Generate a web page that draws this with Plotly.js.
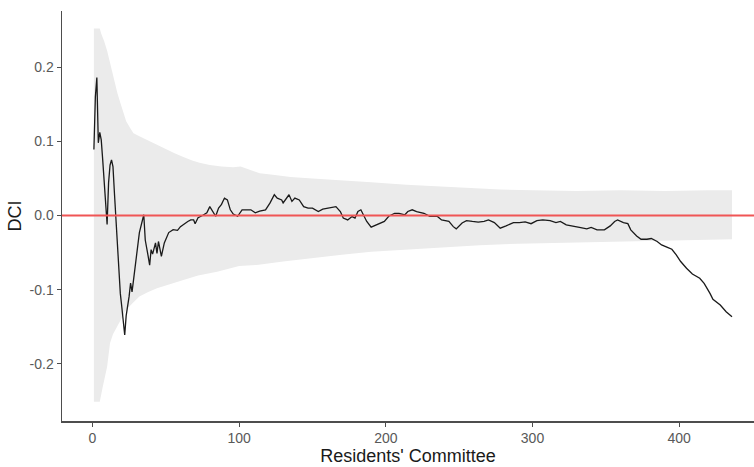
<!DOCTYPE html>
<html>
<head>
<meta charset="utf-8">
<script src="https://cdn.plot.ly/plotly-3.0.1.min.js"></script>
<style>html,body{margin:0;padding:0;background:#fff;}#chart{width:754px;height:467px;}</style>
</head>
<body>
<div id="chart"></div>
<script>
// DCI line (Residents' Committee index, DCI value)
const lineX = [1,2,3,4,5,6,7,8,9,10,11,12,13,14,15,16,17,18,19,20,21,22,23,24,25,26,27,28,30,32,35,36,38,39,40,41,43,44,45,47,49,52,55,58,60,62,65,67,69,70,72,75,78,80,82,84,86,88,90,92,94,96,99,102,105,108,111,114,118,121,124,126,129,130,134,136,138,141,144,147,150,154,157,162,166,169,171,174,177,179,181,183,185,187,190,194,199,202,206,209,213,215,218,221,226,230,235,238,243,246,248,252,255,259,263,267,270,274,278,282,287,291,295,299,303,307,312,316,319,323,328,332,337,340,344,349,353,356,358,362,365,367,371,374,378,381,385,388,392,395,398,401,405,409,414,417,421,423,428,432,436];
const lineY = [0.089,0.160,0.186,0.098,0.112,0.102,0.075,0.048,0.008,-0.012,0.044,0.068,0.075,0.066,0.030,-0.006,-0.030,-0.069,-0.105,-0.123,-0.140,-0.161,-0.135,-0.123,-0.109,-0.091,-0.103,-0.087,-0.055,-0.023,0.001,-0.033,-0.055,-0.067,-0.046,-0.052,-0.037,-0.051,-0.035,-0.055,-0.037,-0.023,-0.019,-0.020,-0.015,-0.012,-0.008,-0.006,-0.006,-0.011,-0.003,0.000,0.0036,0.012,0.005,-0.001,0.010,0.015,0.0235,0.021,0.0077,0.002,-0.001,0.0077,0.0075,0.0077,0.0036,0.006,0.0077,0.0167,0.028,0.0235,0.021,0.017,0.028,0.019,0.0235,0.021,0.012,0.010,0.010,0.0054,0.0086,0.010,0.012,0.0054,-0.0035,-0.006,-0.0014,-0.0035,0.0054,0.0077,-0.001,-0.008,-0.0157,-0.0126,-0.008,-0.001,0.003,0.003,0.001,0.0054,0.0077,0.0054,0.003,-0.001,-0.001,-0.006,-0.008,-0.015,-0.018,-0.010,-0.0068,-0.008,-0.009,-0.008,-0.006,-0.0095,-0.017,-0.014,-0.0095,-0.0095,-0.0085,-0.011,-0.0068,-0.006,-0.0068,-0.0095,-0.008,-0.0126,-0.015,-0.016,-0.018,-0.016,-0.0193,-0.0193,-0.014,-0.008,-0.006,-0.0095,-0.011,-0.0193,-0.0275,-0.032,-0.032,-0.031,-0.035,-0.0396,-0.043,-0.0455,-0.053,-0.062,-0.071,-0.0788,-0.0846,-0.0914,-0.105,-0.113,-0.1207,-0.1297,-0.1365];

// Ribbon bounds
const upperX = [1,5,6,8,10,12,14,17,19,21,23,26,28,32,37,42,47,51,56,62,68,73,80,88,96,101,108,114,123,135,150,169,190,214,240,260,278,300,330,360,390,420,436];
const upperY = [0.252,0.252,0.245,0.235,0.222,0.205,0.188,0.165,0.152,0.138,0.127,0.117,0.111,0.107,0.102,0.097,0.092,0.088,0.084,0.079,0.074,0.071,0.068,0.066,0.065,0.066,0.061,0.057,0.055,0.052,0.050,0.048,0.045,0.0415,0.039,0.037,0.035,0.034,0.033,0.034,0.033,0.034,0.034];
const lowerX = [1,5,7,10,12,14,17,20,23,28,32,38,44,52,62,72,85,100,112,130,150,170,190,214,240,264,290,320,350,380,410,436];
const lowerY = [-0.251,-0.251,-0.231,-0.204,-0.172,-0.160,-0.150,-0.138,-0.127,-0.117,-0.109,-0.103,-0.098,-0.093,-0.087,-0.081,-0.0757,-0.068,-0.0666,-0.062,-0.057,-0.053,-0.049,-0.046,-0.043,-0.040,-0.038,-0.036,-0.035,-0.034,-0.033,-0.032];

const xTicks = [0,100,200,300,400];
const yTicks = [-0.2,-0.1,0.0,0.1,0.2];
const yTickText = ['-0.2','-0.1','0.0','0.1','0.2'];
const refY = 0;

const ribbonX = upperX.concat(lowerX.slice().reverse());
const ribbonY = upperY.concat(lowerY.slice().reverse());

const traces = [
  {x: ribbonX, y: ribbonY, type:'scatter', mode:'lines', fill:'toself',
   fillcolor:'#ebebeb', line:{width:0, color:'rgba(0,0,0,0)'}, hoverinfo:'skip', showlegend:false},
  {x: lineX, y: lineY, type:'scatter', mode:'lines',
   line:{color:'#1a1a1a', width:1.3}, showlegend:false}
];

const axisFont = {family:'Liberation Sans, Arial, sans-serif', size:14, color:'#595959'};
const titleFont = {family:'Liberation Sans, Arial, sans-serif', size:18, color:'#1a1a1a'};

const layout = {
  width:754, height:467,
  margin:{l:62, r:0, t:11, b:46, pad:0},
  paper_bgcolor:'#ffffff', plot_bgcolor:'#ffffff',
  showlegend:false,
  xaxis:{range:[-20.75,451], tickvals:xTicks, ticktext:xTicks.map(String),
    showgrid:false, zeroline:false, showline:true, linecolor:'#4d4d4d', linewidth:1.5,
    ticks:'outside', ticklen:4, tickwidth:1.2, tickcolor:'#4d4d4d', tickfont:axisFont,
    title:{text:"Residents' Committee", font:titleFont, standoff:2}, automargin:false},
  yaxis:{range:[-0.277,0.2757], tickvals:yTicks, ticktext:yTickText,
    showgrid:false, zeroline:false, showline:true, linecolor:'#4d4d4d', linewidth:1.5,
    ticks:'outside', ticklen:4, tickwidth:1.2, tickcolor:'#4d4d4d', tickfont:axisFont,
    title:{text:'DCI', font:titleFont, standoff:3}, automargin:false},
  shapes:[{type:'line', xref:'paper', x0:0, x1:1, yref:'y', y0:refY, y1:refY,
    line:{color:'#f05555', width:2}}]
};

Plotly.newPlot('chart', traces, layout, {displayModeBar:false, staticPlot:true});
</script>
</body>
</html>
